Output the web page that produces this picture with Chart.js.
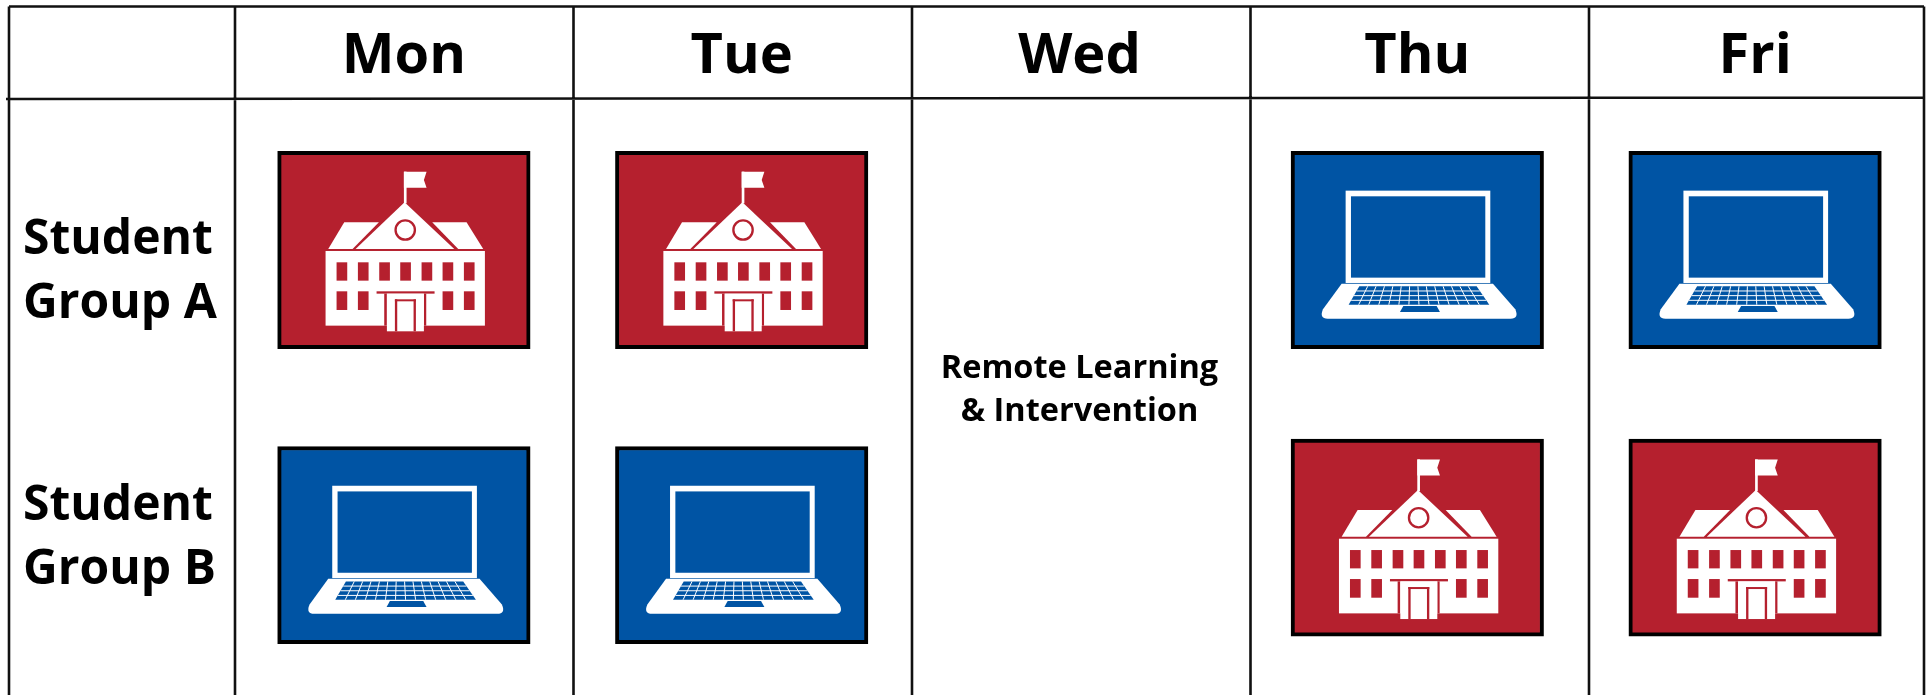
<!DOCTYPE html>
<html lang="en">
  <head>
    <meta charset="UTF-8" />
    <title>Student group schedule</title>
    <style>
      html, body { margin: 0; padding: 0; background: #fff; }
      canvas { display: block; }
    </style>
  </head>
  <body>
    <canvas id="schedule" width="1931" height="695"></canvas>
    <script src="https://cdn.jsdelivr.net/npm/chart.js@4"></script>
    <script>
      var days = ['Mon', 'Tue', 'Wed', 'Thu', 'Fri'];
      var groupLabels = [['Student', 'Group A'], ['Student', 'Group B']];
      var groupLabelRows = [1.075, 1.978];

      // where each group sits in the row scale, no box on Wed
      var groupARows = [1, 1, null, 1, 1];
      var groupBRows = [2, 2, null, 1.975, 1.975];
      var groupAModes = ['school', 'school', null, 'laptop', 'laptop'];
      var groupBModes = ['laptop', 'laptop', null, 'school', 'school'];
      var boxSpan = 0.334;

      var noteDay = 'Wed';
      var noteRow = 1.404;
      var noteLines = ['Remote Learning', '& Intervention'];

      var RED = '#b5202e';
      var BLUE = '#0054a4';
      var FONT = '"Open Sans", sans-serif';

      function toBars(rows) {
        return rows.map(function (r) {
          return r === null ? null : [r - boxSpan, r + boxSpan];
        });
      }
      function modeColors(modes) {
        return modes.map(function (m) {
          return m === 'school' ? RED : BLUE;
        });
      }

      function rect(ctx, x0, y0, x1, y1) {
        ctx.fillRect(x0, y0, x1 - x0, y1 - y0);
      }
      function poly(ctx, pts) {
        ctx.beginPath();
        ctx.moveTo(pts[0], pts[1]);
        for (var i = 2; i < pts.length; i += 2) ctx.lineTo(pts[i], pts[i + 1]);
        ctx.closePath();
        ctx.fill();
      }

      // icons are sketched in 3x units taken from a zoomed crop
      function drawSchool(ctx, cx, cy, bg) {
        ctx.save();
        ctx.translate(cx, cy);
        ctx.scale(1 / 3, 1 / 3);
        ctx.translate(-432, -360);
        ctx.fillStyle = '#fff';
        rect(ctx, 197, 363, 675, 587);
        poly(ctx, [205, 357, 253, 277, 357, 277, 278, 357]);
        poly(ctx, [517, 277, 620, 277, 670, 357, 595, 357]);
        poly(ctx, [287, 357, 434, 217, 583, 357]);
        rect(ctx, 432, 125, 440, 220);
        poly(ctx, [432, 125, 500, 125, 492, 150, 500, 173, 432, 173]);
        ctx.strokeStyle = bg;
        ctx.lineWidth = 7;
        ctx.beginPath();
        ctx.arc(436, 300, 29, 0, Math.PI * 2);
        ctx.stroke();
        ctx.fillStyle = bg;
        [230, 294, 358, 421, 485, 548, 612].forEach(function (x) {
          rect(ctx, x, 397, x + 32, 452);
        });
        [230, 294, 548, 612].forEach(function (x) {
          rect(ctx, x, 484, x + 32, 540);
        });
        // porch and door
        rect(ctx, 350, 484, 524, 491);
        rect(ctx, 373, 491, 381, 587);
        rect(ctx, 492, 491, 499, 587);
        ctx.fillStyle = '#fff';
        rect(ctx, 381, 491, 492, 604);
        ctx.fillStyle = bg;
        rect(ctx, 405, 508, 468, 514);
        rect(ctx, 405, 508, 412, 604);
        rect(ctx, 461, 508, 468, 604);
        ctx.restore();
      }

      function drawLaptop(ctx, cx, cy, bg) {
        ctx.save();
        ctx.translate(cx, cy);
        ctx.scale(1 / 3, 1 / 3);
        ctx.translate(-432, -346);
        ctx.fillStyle = '#fff';
        rect(ctx, 217, 168, 651, 445);
        ctx.fillStyle = bg;
        rect(ctx, 233, 185, 636, 429);
        ctx.fillStyle = '#fff';
        ctx.beginPath();
        ctx.moveTo(205, 447);
        ctx.lineTo(659, 447);
        ctx.lineTo(726, 524);
        ctx.quadraticCurveTo(738, 552, 712, 552);
        ctx.lineTo(163, 552);
        ctx.quadraticCurveTo(137, 552, 149, 524);
        ctx.closePath();
        ctx.fill();
        ctx.fillStyle = bg;
        poly(ctx, [258, 455, 610, 455, 648, 510, 226, 510]);
        poly(ctx, [390, 514, 490, 514, 500, 532, 380, 532]);
        // keyboard grid
        ctx.strokeStyle = '#fff';
        ctx.lineWidth = 3;
        ctx.beginPath();
        [469, 483, 497].forEach(function (y) {
          var t = (y - 455) / 55;
          ctx.moveTo(258 - 32 * t, y);
          ctx.lineTo(610 + 38 * t, y);
        });
        for (var i = 1; i < 14; i++) {
          var k = i / 14;
          ctx.moveTo(258 + 352 * k, 455);
          ctx.lineTo(226 + 422 * k, 510);
        }
        ctx.stroke();
        ctx.restore();
      }

      var tablePlugin = {
        id: 'tablePlugin',
        beforeDatasetsDraw: function (chart) {
          var ctx = chart.ctx;
          var a = chart.chartArea;
          // the table rules run a little wider than the columns they hold
          var ruleStep = 338.5;
          ctx.save();
          ctx.strokeStyle = '#111';
          ctx.lineWidth = 2.6;
          ctx.beginPath();
          ctx.moveTo(9, 6.5);
          ctx.lineTo(a.right, 6.5);
          // header rule sags a little to the left in the original
          ctx.moveTo(6, 99);
          ctx.lineTo(a.right, 97.5);
          ctx.moveTo(9, 6.5);
          ctx.lineTo(9, chart.height);
          ctx.moveTo(a.right, 6.5);
          ctx.lineTo(a.right, chart.height);
          for (var i = 0; i < days.length; i++) {
            var lx = a.left + i * ruleStep;
            ctx.moveTo(lx, 6.5);
            ctx.lineTo(lx, chart.height);
          }
          ctx.stroke();
          ctx.restore();
        },
        afterDatasetsDraw: function (chart) {
          var ctx = chart.ctx;
          [groupAModes, groupBModes].forEach(function (modes, d) {
            chart.getDatasetMeta(d).data.forEach(function (bar, i) {
              if (modes[i] === 'school') {
                drawSchool(ctx, bar.x, (bar.y + bar.base) / 2, RED);
              } else if (modes[i] === 'laptop') {
                drawLaptop(ctx, bar.x, (bar.y + bar.base) / 2, BLUE);
              }
            });
          });
          // note in the Wed column
          var nx = chart.scales.x.getPixelForValue(days.indexOf(noteDay));
          var ny = chart.scales.y.getPixelForValue(noteRow);
          ctx.save();
          ctx.fillStyle = '#000';
          ctx.font = '700 32.5px ' + FONT;
          ctx.textAlign = 'center';
          ctx.textBaseline = 'middle';
          noteLines.forEach(function (line, i) {
            ctx.fillText(line, nx, ny + i * 43);
          });
          ctx.restore();
        },
      };

      new Chart(document.getElementById('schedule'), {
        type: 'bar',
        data: {
          labels: days,
          datasets: [
            {
              label: 'Student Group A',
              data: toBars(groupARows),
              backgroundColor: modeColors(groupAModes),
            },
            {
              label: 'Student Group B',
              data: toBars(groupBRows),
              backgroundColor: modeColors(groupBModes),
            },
          ],
        },
        options: {
          responsive: false,
          animation: false,
          layout: { padding: { left: 23, right: 7 } },
          datasets: {
            bar: {
              grouped: false,
              barThickness: 252.5,
              borderColor: '#000',
              borderWidth: 4,
              borderSkipped: false,
            },
          },
          plugins: {
            legend: { display: false },
            title: { display: false },
            tooltip: { enabled: false },
          },
          scales: {
            x: {
              position: 'top',
              afterFit: function (s) {
                s.height = 98;
                s.paddingLeft = 0;
                s.paddingRight = 0;
              },
              grid: { display: false },
              border: { display: false },
              ticks: {
                color: '#000',
                padding: -1,
                maxRotation: 0,
                font: { family: FONT, size: 56, weight: '700' },
              },
            },
            y: {
              reverse: true,
              min: 0.485,
              max: 2.508,
              afterFit: function (s) {
                s.width = 212;
                s.paddingTop = 0;
                s.paddingBottom = 0;
              },
              afterBuildTicks: function (s) {
                s.ticks = groupLabelRows.map(function (v) {
                  return { value: v };
                });
              },
              grid: { display: false },
              border: { display: false },
              ticks: {
                color: '#000',
                crossAlign: 'far',
                autoSkip: false,
                font: { family: FONT, size: 48, weight: '700', lineHeight: 1.33 },
                callback: function (v, i) {
                  return groupLabels[i];
                },
              },
            },
          },
        },
        plugins: [tablePlugin],
      });
    </script>
  </body>
</html>
